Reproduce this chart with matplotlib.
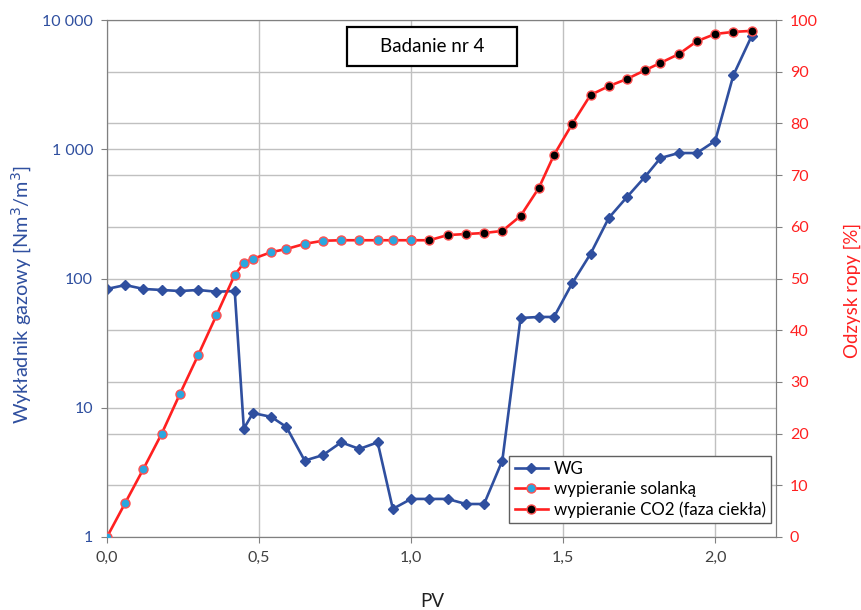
""" Badanie nr 4 - WG i odzysk ropy w funkcji PV """
import numpy as np
import matplotlib
matplotlib.use("Agg")
import matplotlib.pyplot as plt
from matplotlib.patches import Rectangle
from matplotlib.ticker import FuncFormatter, FixedLocator

plt.rcParams['font.family'] = ['Lato', 'DejaVu Sans']

# dane
pv = [0.00, 0.06, 0.12, 0.18, 0.24, 0.30, 0.36, 0.42, 0.45, 0.48,
      0.54, 0.59, 0.65, 0.71, 0.77, 0.83, 0.89, 0.94, 1.00, 1.06,
      1.12, 1.18, 1.24, 1.30, 1.36, 1.42, 1.47, 1.53, 1.59, 1.65,
      1.71, 1.77, 1.82, 1.88, 1.94, 2.00, 2.06, 2.12]
wg = [83, 89, 83, 81.5, 80, 81.5, 79, 80, 6.9, 9.1,
      8.5, 7.1, 3.9, 4.3, 5.4, 4.8, 5.4, 1.65, 1.97, 1.97,
      1.97, 1.80, 1.80, 3.9, 49.5, 50.4, 50.4, 92, 155, 294,
      427, 615, 855, 935, 935, 1160, 3750, 7520]
odzysk = [0, 6.6, 13.2, 20.0, 27.7, 35.2, 42.9, 50.7, 53.0, 53.8,
          55.1, 55.7, 56.7, 57.3, 57.4, 57.4, 57.4, 57.4, 57.4, 57.4,
          58.4, 58.6, 58.8, 59.2, 62.1, 67.5, 73.9, 79.9, 85.5, 87.2,
          88.6, 90.3, 91.7, 93.4, 95.9, 97.3, 97.7, 97.9]
n_solanka = 19  # pierwsze punkty: wypieranie solanka (do PV = 1,0)

BLUE = '#2F4F9F'
RED = '#FF2020'
CYAN = '#2AA7DF'
GRID = '#C0C0C0'

fig = plt.figure(figsize=(8.62, 6.10), dpi=100)
ax = fig.add_axes([107/862, 1-537/610, (776-107)/862, (537-20)/610])
ax2 = ax.twinx()

# WG - lewa os (log)
l_wg, = ax.plot(pv, wg, color=BLUE, lw=1.9, marker='D', ms=5, mfc=BLUE, mec=BLUE, zorder=3)
ax.set_yscale('log')
ax.set_ylim(1, 10000)
ax.set_xlim(0, 2.2)
ax.set_xticks(np.arange(0, 2.01, 0.5))
ax.xaxis.set_major_formatter(FuncFormatter(lambda v, p: ('%.1f' % v).replace('.', ',')))
ax.yaxis.set_major_locator(FixedLocator([1, 10, 100, 1000, 10000]))
ax.yaxis.set_major_formatter(FuncFormatter(lambda v, p: '{:,.0f}'.format(v).replace(',', ' ')))
# siatka prawej osi (co 10 %) rysowana na lewej osi, zeby byla pod liniami
ax.yaxis.set_minor_locator(FixedLocator([10 ** (0.4 * k) for k in range(1, 10)]))
ax.yaxis.set_minor_formatter(FuncFormatter(lambda v, p: ''))
ax.grid(True, which='both', axis='y', color=GRID, lw=1.0)
ax.grid(True, which='major', axis='x', color=GRID, lw=1.0)
ax.set_axisbelow(True)
ax.tick_params(axis='y', which='minor', length=0)
ax.tick_params(axis='y', which='major', colors=BLUE, labelsize=11.5, length=4, pad=6)
ax.tick_params(axis='y', which='major', color='#808080')
ax.tick_params(axis='x', labelsize=11.5, colors='#404040', length=4, pad=6)
ax.tick_params(axis='x', color='#808080')
ax.set_ylabel('Wykładnik gazowy [Nm$^3$/m$^3$]', color=BLUE, fontsize=14.3, va='center')
ax.yaxis.set_label_coords(-0.127, 0.468)
ax.set_xlabel('PV', fontsize=13.5, color='#202020', va='center')
ax.xaxis.set_label_coords(0.486, -0.124)

# odzysk ropy - prawa os
l_co2, = ax2.plot(pv[n_solanka - 1:], odzysk[n_solanka - 1:], color=RED, lw=1.9, marker='o', ms=6.5,
                  mfc='black', mec='#FF5050', mew=1.0, zorder=3)
l_sol, = ax2.plot(pv[:n_solanka], odzysk[:n_solanka], color=RED, lw=1.9, marker='o', ms=6.5,
                  mfc=CYAN, mec='#FF5050', mew=1.0, zorder=4)
ax2.set_ylim(0, 100)
ax2.set_yticks(np.arange(0, 101, 10))
ax2.tick_params(axis='y', colors=RED, labelsize=11.5, length=4, pad=6)
ax2.tick_params(axis='y', color='#808080')
ax2.set_ylabel('Odzysk ropy [%]', color=RED, fontsize=13.5, va='center')
ax2.yaxis.set_label_coords(1.114, 0.476)

for a in (ax, ax2):
    for s in a.spines.values():
        s.set_color('#808080')

# ramka z tytulem
ax2.add_patch(Rectangle((0.3587, 0.911), 0.254, 0.0754, transform=ax2.transAxes,
                        fc='white', ec='black', lw=1.6, zorder=5))
ax2.text(0.486, 0.948, 'Badanie nr 4', transform=ax2.transAxes, ha='center', va='center',
         fontsize=13.5, zorder=6)

leg = ax2.legend([l_wg, l_sol, l_co2], ['WG', 'wypieranie solanką', 'wypieranie CO2 (faza ciekła)'],
                 loc='lower right', bbox_to_anchor=(0.997, 0.02), fontsize=12.2, frameon=True, fancybox=False,
                 handlelength=2.0, handletextpad=0.3, borderpad=0.3, labelspacing=0.25, borderaxespad=0.2)
leg.get_frame().set_edgecolor('#606060')
leg.get_frame().set_linewidth(1.0)
leg.get_frame().set_alpha(1)

fig.savefig('out.png', dpi=100)
